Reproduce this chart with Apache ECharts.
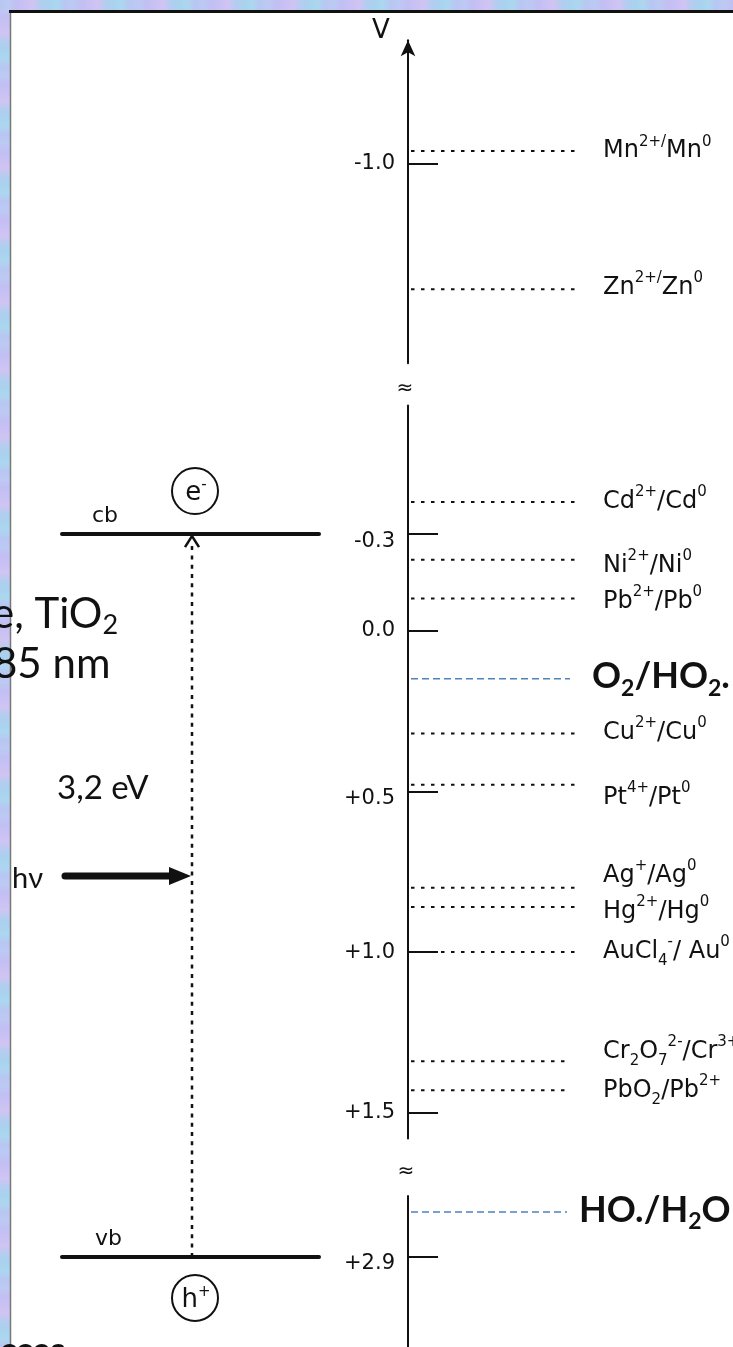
<!DOCTYPE html>
<html>
<head>
<meta charset="utf-8">
<script src="https://cdn.jsdelivr.net/npm/echarts@6/dist/echarts.min.js"></script>
<style>html,body{margin:0;padding:0;background:#fff}#c{width:733px;height:1347px}</style>
</head>
<body>
<div id="c"></div>
<script>
// ---------- data ----------
const axisTicksTop = [-1.0];
const axisTicksMid = [-0.3, 0.0, 0.5, 1.0, 1.5];
const axisTicksBottom = [2.9];

const coupleLabels = [
  '{n|Mn}{s|2+/}{n|Mn}{s|0}',
  '{n|Zn}{s|2+/}{n|Zn}{s|0}',
  '{n|Cd}{s|2+}{n|/Cd}{s|0}',
  '{n|Ni}{s|2+}{n|/Ni}{s|0}',
  '{n|Pb}{s|2+}{n|/Pb}{s|0}',
  '{n|Cu}{s|2+}{n|/Cu}{s|0}',
  '{n|Pt}{s|4+}{n|/Pt}{s|0}',
  '{n|Ag}{s|+}{n|/Ag}{s|0}',
  '{n|Hg}{s|2+}{n|/Hg}{s|0}',
  '{n|AuCl}{b|4}{s|-}{n|/ Au}{s|0}',
  '{n|Cr}{b|2}{n|O}{b|7}{s|2-}{n|/Cr}{s|3+}',
  '{n|PbO}{b|2}{n|/Pb}{s|2+}'
];
const coupleValues = [-1.04, -0.61, -0.40, -0.22, -0.10, 0.32, 0.48, 0.80, 0.86, 1.00, 1.34, 1.43];

const radicalLabels = ['{B|O}{Bs|2}{B|/HO}{Bs|2}{B|.}', '{B|HO./H}{Bs|2}{B|O}'];
const radicalValues = [0.15, 2.76];

const bandNames = ['cb', 'vb'];
const bandValues = [-0.3, 2.9];
const carrierLabels = ['{c|e}{s|-}', '{c|h}{s|+}'];
const materialLines = ['e, TiO{sub|2}', '85 nm'];
const photonLabel = 'h\u03bd';
const unitLabel = 'V';
const footerText = 'cces';

// ---------- layout ----------
const K = 321.5;          // px per volt
const AXIS_X = 408;
const LINE_END = 575;
const sections = [
  {min: -1.385, max: -0.38, top: 40.2, ticks: axisTicksTop},
  {min: -0.70, max: 1.58, top: 405.5, ticks: axisTicksMid},
  {min: 2.71, max: 3.20, top: 1195.9, ticks: axisTicksBottom}
];
const sectionSplits = [-0.5, 2.0];   // axis breaks between the three drawn segments
const labelNudge = [0, -2, 0, 6, 3, -1, 13, -12, 5, 0, -10, 0];
const lineEndTrim = [0, 0, 0, 0, 0, 0, 0, 0, 0, 0, 6, 6];
const loweredTicks = [-0.3, 0.5, 2.9];
const FONT = '"DejaVu Sans", sans-serif';
const LATO = 'Lato, "Open Sans", sans-serif';

function sectionOf(v) {
  if (v < sectionSplits[0]) return 0;
  if (v > sectionSplits[1]) return 2;
  return 1;
}

const richLabel = {
  n: {fontSize: 24, fontFamily: FONT, lineHeight: 34, fill: '#111'},
  s: {fontSize: 15, fontFamily: FONT, lineHeight: 15, verticalAlign: 'top', fill: '#111'},
  b: {fontSize: 15, fontFamily: FONT, lineHeight: 20, verticalAlign: 'bottom', fill: '#111'}
};
const richBold = {
  B: {fontSize: 36, fontFamily: LATO, fontWeight: 'bold', lineHeight: 46, fill: '#111'},
  Bs: {fontSize: 23, fontFamily: LATO, fontWeight: 'bold', lineHeight: 27, verticalAlign: 'bottom', fill: '#111'}
};
const richCarrier = {
  c: {fontSize: 26, fontFamily: FONT, lineHeight: 30, fill: '#111'},
  s: {fontSize: 15, fontFamily: FONT, lineHeight: 15, verticalAlign: 'top', fill: '#111'}
};

function renderCouple(params, api) {
  const v = api.value(0), idx = api.value(1);
  const y = api.coord([0, v])[1];
  const cs = params.coordSys;
  return {type: 'group', children: [
    {type: 'line', shape: {x1: cs.x + 3, y1: y, x2: cs.x + cs.width - lineEndTrim[idx], y2: y},
     style: {stroke: '#111', lineWidth: 2, lineDash: [3.5, 6.5]}},
    {type: 'text', x: cs.x + cs.width + 28, y: y + labelNudge[idx],
     style: {text: coupleLabels[idx], rich: richLabel, align: 'left', verticalAlign: 'middle', fill: '#111'}}
  ]};
}
function renderRadical(params, api) {
  const v = api.value(0), idx = api.value(1);
  const y = api.coord([0, v])[1];
  const cs = params.coordSys;
  const end = cs.x + cs.width - (idx === 0 ? 5 : 8);
  return {type: 'group', children: [
    {type: 'line', shape: {x1: cs.x + 3, y1: y, x2: end, y2: y},
     style: {stroke: '#4f81bd', lineWidth: 1.5, lineDash: [7, 4]}},
    {type: 'text', x: idx === 0 ? cs.x + cs.width + 17 : cs.x + cs.width + 4, y: y - 2,
     style: {text: radicalLabels[idx], rich: richBold, align: 'left', verticalAlign: 'middle', fill: '#111'}}
  ]};
}
function renderBand(params, api) {
  const v = api.value(0), idx = api.value(1);
  const y = api.coord([0, v])[1];
  const x0 = params.coordSys.x;
  const cx = x0 - 213, cy = idx === 1 ? y + 41 : y - 43;
  return {type: 'group', children: [
    {type: 'line', shape: {x1: x0 - 346, y1: y, x2: x0 - 89, y2: y},
     style: {stroke: '#111', lineWidth: 4, lineCap: 'round'}},
    {type: 'text', x: x0 - 316 + (idx === 1 ? 3 : 0), y: y - 18,
     style: {text: bandNames[idx], font: '22px ' + FONT, fill: '#111', align: 'left', verticalAlign: 'middle'}},
    {type: 'circle', shape: {cx: cx, cy: cy, r: 23},
     style: {fill: '#fff', stroke: '#111', lineWidth: 2}},
    {type: 'text', x: cx + 1, y: cy + 2,
     style: {text: carrierLabels[idx], rich: richCarrier, align: 'center', verticalAlign: 'middle', fill: '#111'}}
  ]};
}

const grids = sections.map(s => ({
  left: AXIS_X, width: LINE_END - AXIS_X, top: s.top, height: (s.max - s.min) * K,
  outerBoundsMode: 'none', containLabel: false
}));
const xAxes = sections.map((s, i) => ({type: 'value', gridIndex: i, min: 0, max: 1, show: false}));
const yAxes = sections.map((s, i) => ({
  type: 'value', gridIndex: i, inverse: true, min: s.min, max: s.max,
  name: i === 0 ? unitLabel : '', nameLocation: 'start', nameGap: -4,
  nameTextStyle: {fontSize: 26, fontFamily: FONT, color: '#111', padding: [0, 54, 0, 0]},
  axisLine: {show: true, lineStyle: {color: '#111', width: 2},
             symbol: i === 0 ? ['none', 'arrow'] : 'none', symbolSize: [11, 16]},
  axisTick: {show: true, inside: true, length: 30, lineStyle: {color: '#111', width: 2}, customValues: s.ticks},
  axisLabel: {show: true, customValues: s.ticks, margin: 13,
    formatter: v => {
      const t = v > 0 ? '+' + v.toFixed(1) : v.toFixed(1);
      return loweredTicks.indexOf(v) >= 0 ? '{d|' + t + '}' : '{a|' + t + '}';
    },
    rich: {
      a: {fontSize: 21, fontFamily: FONT, color: '#111'},
      d: {fontSize: 21, fontFamily: FONT, color: '#111', padding: [14, 0, 0, 0]}
    }},
  splitLine: {show: false}
}));

const series = [];
sections.forEach((s, i) => {
  const cd = coupleValues.map((v, k) => [v, k]).filter(d => sectionOf(d[0]) === i);
  if (cd.length) series.push({type: 'custom', xAxisIndex: i, yAxisIndex: i, clip: false, silent: true, data: cd, renderItem: renderCouple});
  const rd = radicalValues.map((v, k) => [v, k]).filter(d => sectionOf(d[0]) === i);
  if (rd.length) series.push({type: 'custom', xAxisIndex: i, yAxisIndex: i, clip: false, silent: true, data: rd, renderItem: renderRadical});
  const bd = bandValues.map((v, k) => [v, k]).filter(d => sectionOf(d[0]) === i);
  if (bd.length) series.push({type: 'custom', xAxisIndex: i, yAxisIndex: i, clip: false, silent: true, data: bd, renderItem: renderBand});
});

const chart = echarts.init(document.getElementById('c'), null, {renderer: 'canvas'});
chart.setOption({
  backgroundColor: '#fff', animation: false,
  grid: grids, xAxis: xAxes, yAxis: yAxes, series: series
});

// ---------- annotations placed through the axes ----------
const cbPx = chart.convertToPixel({gridIndex: sectionOf(bandValues[0])}, [0, bandValues[0]]);
const vbPx = chart.convertToPixel({gridIndex: sectionOf(bandValues[1])}, [0, bandValues[1]]);
const cbY = cbPx[1], vbY = vbPx[1];
const gapLabel = (bandValues[1] - bandValues[0]).toFixed(1).replace('.', ',') + ' eV';
const xT = AXIS_X - 216;

const stripColors = ['#b8c6f2', '#c9c1f4', '#a9d2ee', '#bccaf3', '#d0c4f2', '#add6ef', '#c2bff3', '#b3cdf0'];
function stripGradient(horizontal) {
  const stops = []; const n = horizontal ? 90 : 160;
  for (let i = 0; i <= n; i++) stops.push({offset: i / n, color: stripColors[(i * 3) % stripColors.length]});
  return new echarts.graphic.LinearGradient(0, 0, horizontal ? 1 : 0, horizontal ? 0 : 1, stops);
}
const g = [];
g.push({type: 'rect', z: 0, shape: {x: 0, y: 0, width: 10, height: 1347}, style: {fill: stripGradient(false)}});
g.push({type: 'rect', z: 0, shape: {x: 0, y: 0, width: 733, height: 10}, style: {fill: stripGradient(true)}});
g.push({type: 'line', z: 1, shape: {x1: 10.5, y1: 11, x2: 10.5, y2: 1347}, style: {stroke: '#777', lineWidth: 1.5}});
g.push({type: 'line', z: 1, shape: {x1: 9, y1: 11.5, x2: 733, y2: 11.5}, style: {stroke: '#111', lineWidth: 3}});
// break marks
const topRect = grids[0], midRect = grids[1], botRect = grids[2];
g.push({type: 'text', z: 5, x: AXIS_X - 3, y: (topRect.top + topRect.height + midRect.top) / 2 + 4,
  style: {text: '\u2248', font: '20px ' + FONT, fill: '#111', align: 'center', verticalAlign: 'middle'}});
g.push({type: 'text', z: 5, x: AXIS_X - 2, y: (midRect.top + midRect.height + botRect.top) / 2 + 5,
  style: {text: '\u2248', font: '20px ' + FONT, fill: '#111', align: 'center', verticalAlign: 'middle'}});
// excitation (dotted) from vb to cb
g.push({type: 'line', z: 5, shape: {x1: xT, y1: cbY + 12, x2: xT, y2: vbY},
  style: {stroke: '#111', lineWidth: 2.5, lineDash: [4, 5.3]}});
g.push({type: 'polyline', z: 5, shape: {points: [[xT - 7, cbY + 13], [xT, cbY + 2], [xT + 7, cbY + 13]]},
  style: {stroke: '#111', lineWidth: 2.5, fill: null}});
// photon arrow
const hvY = 876;
g.push({type: 'line', z: 5, shape: {x1: 65, y1: hvY, x2: xT - 20, y2: hvY}, style: {stroke: '#111', lineWidth: 7, lineCap: 'round'}});
g.push({type: 'polygon', z: 5, shape: {points: [[xT - 23, hvY - 9], [xT - 1, hvY], [xT - 23, hvY + 9]]}, style: {fill: '#111'}});
g.push({type: 'text', z: 10, x: 12, y: hvY + 3,
  style: {text: photonLabel, font: '29px ' + LATO, fill: '#111', align: 'left', verticalAlign: 'middle'}});
g.push({type: 'text', z: 10, x: 57, y: 788,
  style: {text: gapLabel, font: '33px ' + LATO, fill: '#111', align: 'left', verticalAlign: 'middle'}});
g.push({type: 'text', z: 10, x: -8, y: 614,
  style: {text: '{m|' + materialLines[0].replace('{sub|2}', '}{sub|2}'), rich: {
    m: {fontSize: 42, fontFamily: LATO, lineHeight: 50, fill: '#111'},
    sub: {fontSize: 27, fontFamily: LATO, lineHeight: 30, verticalAlign: 'bottom', fill: '#111'}
  }, align: 'left', verticalAlign: 'middle'}});
g.push({type: 'text', z: 10, x: -7, y: 664,
  style: {text: materialLines[1], font: '42px ' + LATO, fill: '#111', align: 'left', verticalAlign: 'middle'}});
g.push({type: 'text', z: 10, x: 0, y: 1351,
  style: {text: footerText, font: 'bold 34px ' + LATO, fill: '#111', align: 'left', verticalAlign: 'middle'}});

chart.setOption({graphic: {elements: g}});
</script>
</body>
</html>
